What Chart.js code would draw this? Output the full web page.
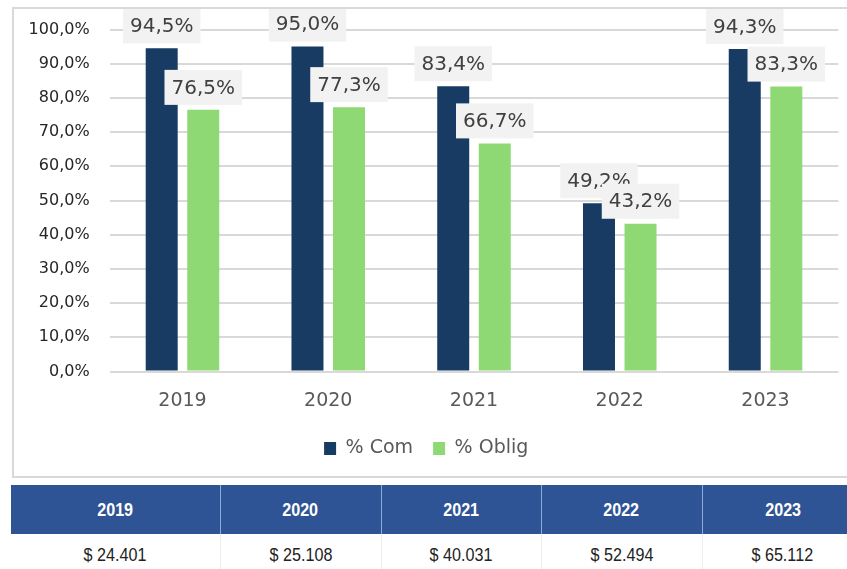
<!DOCTYPE html>
<html>
<head>
<meta charset="utf-8">
<script src="https://cdn.jsdelivr.net/npm/chart.js@4.4.1/dist/chart.umd.min.js"></script>
<style>
  html, body { margin: 0; padding: 0; background: #fff; overflow: hidden; width: 847px; height: 569px; }
  #box { position: absolute; left: 12px; top: 7px; width: 850px; height: 467px; border: 2px solid #d9d9d9; }
  #amounts { position: absolute; left: 11px; top: 485px; width: 852px; border-collapse: collapse; table-layout: fixed;
    font-family: "Liberation Sans", Arial, sans-serif; }
  #amounts th { background: #2f5496; color: #fff; font-weight: bold; font-size: 19px; height: 49px; padding: 0;
    border-left: 1px solid #8ea9db; text-align: center; }
  #amounts td { background: #fff; color: #222; font-size: 19px; height: 42px; padding: 0;
    border-left: 1px solid #ededed; text-align: center; }
  #amounts th:first-child, #amounts td:first-child { border-left: none; }
  #amounts span { display: inline-block; transform: scaleX(0.85); }
</style>
</head>
<body>
<div id="box"><canvas id="myChart"></canvas></div>
<table id="amounts">
  <colgroup><col style="width:209px"><col style="width:161px"><col style="width:160px"><col style="width:161px"><col style="width:161px"></colgroup>
  <thead><tr id="yearRow"></tr></thead>
  <tbody><tr id="amountRow"></tr></tbody>
</table>
<script>
const years = ['2019', '2020', '2021', '2022', '2023'];
const comPct = [94.5, 95.0, 83.4, 49.2, 94.3];
const obligPct = [76.5, 77.3, 66.7, 43.2, 83.3];
const amounts = [24401, 25108, 40031, 52494, 65112];

const pct = v => v.toFixed(1).replace('.', ',') + '%';
const money = v => '$ ' + v.toLocaleString('de-DE');

// table under the chart
const yearRow = document.getElementById('yearRow');
const amountRow = document.getElementById('amountRow');
years.forEach((y, i) => {
  const th = document.createElement('th');
  th.innerHTML = '<span>' + y + '</span>';
  yearRow.appendChild(th);
  const td = document.createElement('td');
  td.innerHTML = '<span>' + money(amounts[i]) + '</span>';
  amountRow.appendChild(td);
});

// grey boxes with the value above each bar
const valueLabels = {
  id: 'valueLabels',
  afterDatasetsDraw(chart) {
    const c = chart.ctx;
    c.save();
    c.font = '20px "DejaVu Sans"';
    c.textAlign = 'center';
    c.textBaseline = 'middle';
    chart.data.datasets.forEach((ds, i) => {
      chart.getDatasetMeta(i).data.forEach((bar, j) => {
        const text = pct(ds.data[j]);
        const w = c.measureText(text).width + 14;
        const h = 35;
        const bottom = bar.y - 5;
        c.fillStyle = '#f2f2f2';
        c.fillRect(bar.x - w / 2, bottom - h, w, h);
        c.fillStyle = '#404040';
        c.fillText(text, bar.x, bottom - h / 2 + 1);
      });
    });
    c.restore();
  }
};

const ctx = document.getElementById('myChart');

new Chart(ctx, {
  type: 'bar',
  data: {
    labels: years,
    datasets: [{
      label: '% Com',
      data: comPct,
      backgroundColor: '#173b63',
      categoryPercentage: 0.57,
      barPercentage: 0.77
    }, {
      label: '% Oblig',
      data: obligPct,
      backgroundColor: '#8ed973',
      categoryPercentage: 0.57,
      barPercentage: 0.77
    }]
  },
  options: {
    responsive: true,
    maintainAspectRatio: false,
    animation: false,
    layout: { padding: { left: 0, right: 25.6, top: 20.5, bottom: 8 } },
    plugins: {
      tooltip: { enabled: false },
      legend: {
        position: 'bottom',
        labels: {
          boxWidth: 12,
          boxHeight: 13,
          padding: 20,
          color: '#595959',
          font: { family: 'DejaVu Sans', size: 19 }
        }
      }
    },
    scales: {
      x: {
        grid: { display: false, drawTicks: false },
        border: { display: false },
        ticks: { color: '#595959', padding: 18, font: { family: 'DejaVu Sans', size: 19 } },
        afterFit: s => { s.height = 47.5; }
      },
      y: {
        min: 0,
        max: 100,
        ticks: { stepSize: 10, color: '#262626', padding: 20, font: { family: 'DejaVu Sans', size: 16 }, callback: v => pct(v) },
        grid: { color: '#d9d9d9', lineWidth: 2, drawTicks: false },
        border: { display: false },
        afterFit: s => { s.width = 95.6; s.paddingTop = 0; s.paddingBottom = 0; }
      }
    }
  },
  plugins: [valueLabels]
});
</script>
</body>
</html>
